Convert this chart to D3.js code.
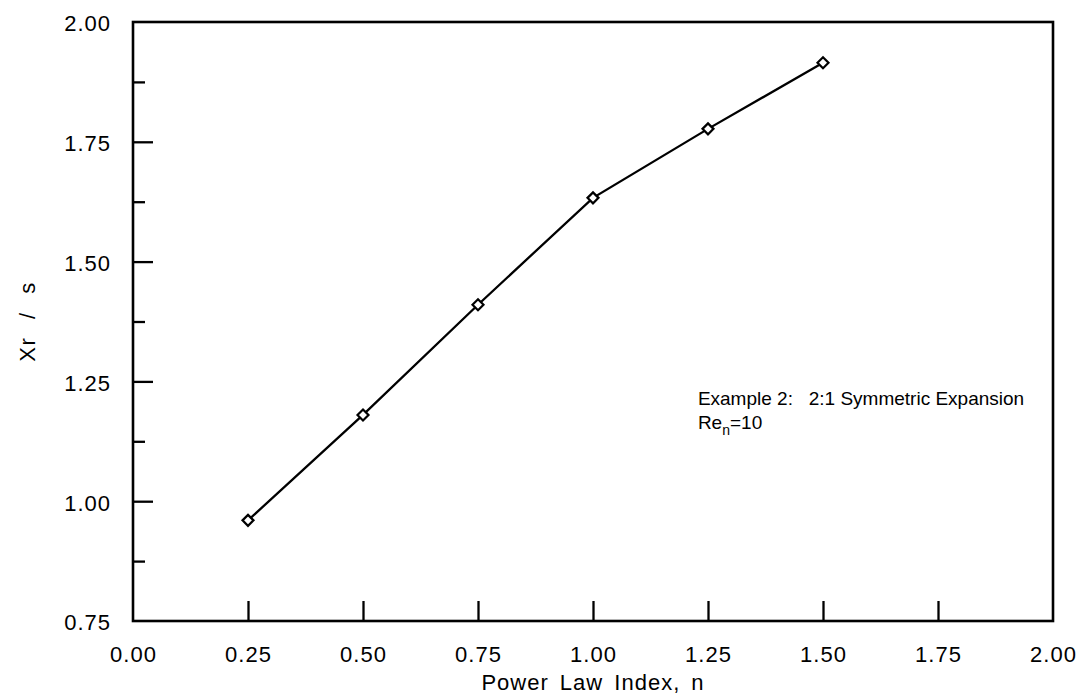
<!DOCTYPE html>
<html><head><meta charset="utf-8">
<script src="https://cdn.jsdelivr.net/npm/d3@7"></script>
<style>
html,body{margin:0;padding:0;background:#fff;}
text{font-family:"Liberation Sans",Arial,sans-serif;fill:#000;}
</style></head>
<body><svg id="c" width="1082" height="695"></svg>
<script>
const nValues = [0.25, 0.50, 0.75, 1.00, 1.25, 1.50];
const xrValues = [0.96, 1.18, 1.41, 1.633, 1.777, 1.915];
const xTickValues = [0, 0.25, 0.5, 0.75, 1.0, 1.25, 1.5, 1.75, 2.0];
const yTickValues = [0.75, 1.0, 1.25, 1.5, 1.75, 2.0];
const yMinorTicks = [0.875, 1.125, 1.375, 1.625, 1.875];
const xTitle = "Power Law Index, n";
const yTitle = "Xr / s";
const noteLine1 = "Example 2:   2:1 Symmetric Expansion";

const L = 133, R = 1053, T = 22, B = 621;
const FONT = "Liberation Sans, Arial, sans-serif";
const svg = d3.select("#c");
const x = d3.scaleLinear().domain([0, 2]).range([L, R]);
const y = d3.scaleLinear().domain([0.75, 2]).range([B, T]);

// x axis ticks (inward) and labels
const xa = svg.append("g").attr("transform", `translate(0,${B})`)
  .call(d3.axisBottom(x).tickValues(xTickValues).tickFormat(d3.format(".2f"))
    .tickSizeInner(-20).tickSizeOuter(0).tickPadding(41));
xa.select(".domain").remove();
xa.selectAll(".tick line").attr("stroke", "#000").attr("stroke-width", 2.3)
  .filter(d => d === 0 || d === 2).remove();
xa.selectAll(".tick text").attr("font-size", 22).attr("font-family", FONT).attr("letter-spacing", 1).attr("dy", "0");

// y axis
const ya = svg.append("g").attr("transform", `translate(${L},0)`)
  .call(d3.axisLeft(y).tickValues(yTickValues).tickFormat(d3.format(".2f"))
    .tickSizeInner(-20).tickSizeOuter(0).tickPadding(22));
ya.select(".domain").remove();
ya.selectAll(".tick line").attr("stroke", "#000").attr("stroke-width", 2.3)
  .filter(d => d === 0.75 || d === 2).remove();
ya.selectAll(".tick text").attr("font-size", 22).attr("font-family", FONT).attr("letter-spacing", 1).attr("dy", "0.4em");

const ym = svg.append("g").attr("transform", `translate(${L},0)`)
  .call(d3.axisLeft(y).tickValues(yMinorTicks).tickFormat("").tickSizeInner(-12).tickSizeOuter(0));
ym.select(".domain").remove();
ym.selectAll(".tick line").attr("stroke", "#000").attr("stroke-width", 2.3);

// frame
svg.append("rect").attr("x", L).attr("y", T).attr("width", R - L).attr("height", B - T)
  .attr("fill", "none").attr("stroke", "#000").attr("stroke-width", 2.6);

// titles
svg.append("text").attr("x", (L + R) / 2).attr("y", 690).attr("text-anchor", "middle")
  .attr("font-size", 22).attr("letter-spacing", 1).attr("word-spacing", 4).text(xTitle);
svg.append("text").attr("transform", `translate(35,${(T + B) / 2}) rotate(-90)`)
  .attr("text-anchor", "middle").attr("font-size", 22).attr("letter-spacing", 1.5)
  .attr("word-spacing", 10).text(yTitle);

// data line
const data = nValues.map((n, i) => ({n, v: xrValues[i]}));
svg.append("path").datum(data)
  .attr("d", d3.line().x(d => x(d.n)).y(d => y(d.v)))
  .attr("fill", "none").attr("stroke", "#000").attr("stroke-width", 2.3);
svg.selectAll(".m").data(data).enter().append("path")
  .attr("transform", d => `translate(${x(d.n)},${y(d.v)})`)
  .attr("d", "M0,-5.5L5.5,0L0,5.5L-5.5,0Z")
  .attr("fill", "#fff").attr("stroke", "#000").attr("stroke-width", 2.2);

// annotation
const ax = x(1.228);
const ay = y(1.2);
svg.append("text").attr("x", ax).attr("y", ay).attr("font-size", 19)
  .attr("xml:space", "preserve").style("white-space", "pre").text(noteLine1);
const t2 = svg.append("text").attr("x", ax).attr("y", ay + 24).attr("font-size", 19);
t2.append("tspan").text("Re");
t2.append("tspan").attr("dy", 6).attr("font-size", 14).text("n");
t2.append("tspan").attr("dy", -6).text("=10");
</script></body></html>
